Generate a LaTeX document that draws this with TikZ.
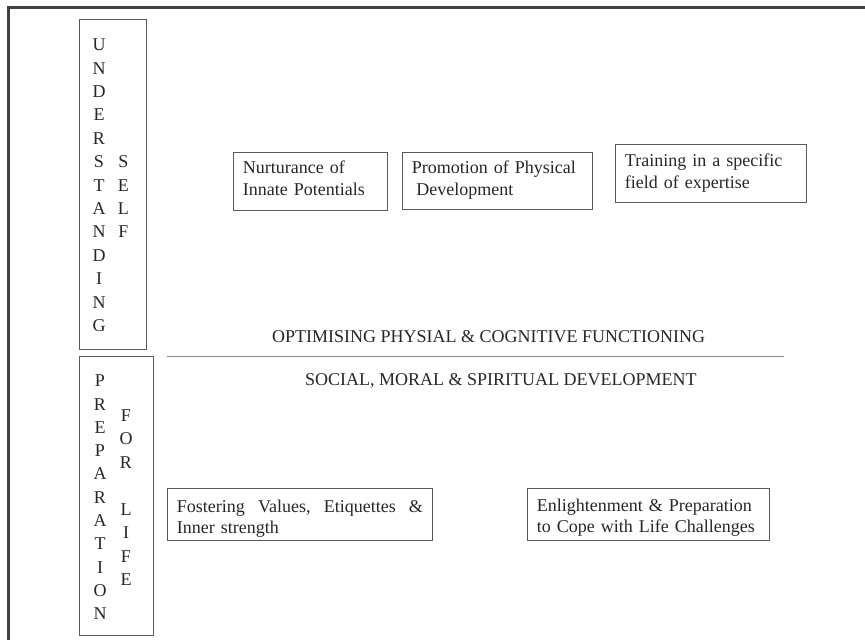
\documentclass[tikz,border=0pt]{standalone}
\usepackage{fontspec}
\setmainfont{Liberation Serif}

\begin{document}
\begin{tikzpicture}[
  x=1pt, y=-1pt,
  every node/.style={text=black!85},
  frame/.style={draw=black!75, line width=2.6pt},
  column/.style={draw=black!65, line width=0.9pt, anchor=north west, inner sep=0pt},
  letters/.style={anchor=base, align=center, text width=16pt, inner sep=0pt,
                  font=\fontsize{18}{23.4}\selectfont},
  note/.style={draw=black!65, line width=0.9pt, anchor=north west, align=left,
               inner xsep=9.5pt, inner ysep=0pt,
               font=\fontsize{18}{21.7}\selectfont},
  heading/.style={anchor=base west, inner sep=0pt, font=\fontsize{18}{22}\selectfont},
  rule/.style={draw=black!45, line width=0.9pt},
]
\useasboundingbox (0,0) rectangle (865,640);
\draw[frame] (865,7.5) -- (8.5,7.5) -- (8.5,640);

\node[column, minimum width=67pt, minimum height=330pt] (selfbox) at (79.3,19) {};
\node[letters] (under) at (99,50.7) {U\\N\\D\\E\\R\\S\\T\\A\\N\\D\\I\\N\\G};
\node[letters] (self) at (123.3,167.7) {S\\E\\L\\F};

\node[column, minimum width=74pt, minimum height=279pt] (lifebox) at (79.3,356) {};
\node[letters, font=\fontsize{18}{23.3}\selectfont] (prep) at (100,386.7)
  {P\\R\\E\\P\\A\\R\\A\\T\\I\\O\\N};
\node[letters, font=\fontsize{18}{23.5}\selectfont] (forlife) at (126,421)
  {F\\O\\R\\[23.5pt]L\\I\\F\\E};

\node[note, text width=135pt, text height=21pt, text depth=37pt] (nurture) at (233,152)
  {Nurturance of\\Innate Potentials};
\node[note, text width=171pt, text height=21pt, text depth=36pt] (physical) at (402,152)
  {Promotion of Physical\\\hspace*{4.5pt}Development};
\node[note, text width=172pt, text height=22pt, text depth=36pt] (training) at (615,144)
  {Training in a specific\\field of expertise};

\node[heading] (optimise) at (272,342) {OPTIMISING PHYSIAL \& COGNITIVE FUNCTIONING};
\coordinate (rulel) at (167,356);
\coordinate (ruler) at (784,356);
\draw[rule] (rulel) -- (ruler);
\node[heading] (social) at (305,385) {SOCIAL, MORAL \& SPIRITUAL DEVELOPMENT};

\node[note, text width=246pt, text height=24pt, text depth=28pt,
      font=\fontsize{18}{21}\selectfont] (values) at (167,488)
  {Fostering \hfill Values, \hfill Etiquettes \hfill \&\\Inner strength};
\node[note, text width=223pt, text height=23pt, text depth=29pt,
      font=\fontsize{18}{21.5}\selectfont] (cope) at (527,488)
  {Enlightenment \& Preparation\\to Cope with Life Challenges};
\end{tikzpicture}
\end{document}
